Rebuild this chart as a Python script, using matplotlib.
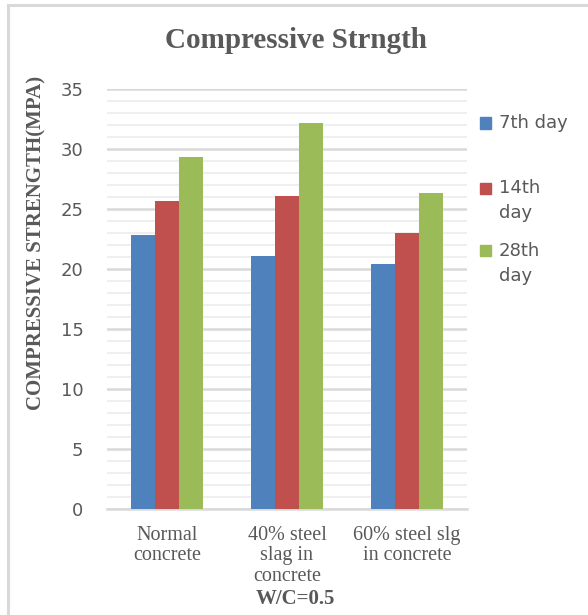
import matplotlib
matplotlib.use("Agg")
import matplotlib.pyplot as plt
import numpy as np
from matplotlib.patches import Rectangle
from matplotlib.lines import Line2D

categories = ["Normal\nconcrete", "40% steel\nslag in\nconcrete", "60% steel slg\nin concrete"]
series_names = ["7th day", "14th\nday", "28th\nday"]
day7 = [22.8, 21.1, 20.4]
day14 = [25.7, 26.1, 23.0]
day28 = [29.3, 32.2, 26.3]
colors = ["#4F81BD", "#C0504D", "#9BBB59"]
yticks = [0, 5, 10, 15, 20, 25, 30, 35]

W, H = 588, 615
fig = plt.figure(figsize=(W / 100, H / 100), dpi=100)
ax = fig.add_axes([107 / W, 1 - 509 / H, 360 / W, 420 / H])

x = np.arange(len(categories))
bw = 0.2
for i, (vals, c) in enumerate(zip([day7, day14, day28], colors)):
    ax.bar(x + (i - 1) * bw, vals, width=bw, color=c, zorder=3)

ax.set_xlim(-0.5, len(categories) - 0.5)
ax.set_ylim(0, 35)
ax.set_yticks(yticks)
ax.set_yticks(np.arange(0, 36, 1), minor=True)
ax.yaxis.grid(True, which="major", color="#d9d9d9", lw=1.8, zorder=0)
ax.yaxis.grid(True, which="minor", color="#efefef", lw=1.5, zorder=0)
ax.set_axisbelow(True)
for s in ["left", "right", "top"]:
    ax.spines[s].set_visible(False)
ax.spines["bottom"].set_color("#d9d9d9")
ax.spines["bottom"].set_linewidth(1.8)
ax.tick_params(axis="y", which="both", length=0, pad=17, labelsize=13, labelcolor="#595959")
ax.tick_params(axis="x", which="both", length=0, pad=12)
ax.set_xticks(x)
ax.set_xticklabels(categories, family="Liberation Serif", fontsize=14.5, color="#595959", linespacing=1.13)
for t in ax.get_yticklabels():
    t.set_family("DejaVu Sans")

fig.text(296 / W, 1 - 41 / H, "Compressive Strngth", family="Liberation Serif", fontweight="bold",
         fontsize=21, color="#595959", ha="center", va="center")
fig.text(36 / W, 1 - 243 / H, "COMPRESSIVE STRENGTH(MPA)", family="Liberation Serif", fontweight="bold",
         fontsize=15, color="#595959", ha="center", va="center", rotation=90)
fig.text(295 / W, 1 - 599 / H, "W/C=0.5", family="Liberation Serif", fontweight="bold",
         fontsize=15, color="#595959", ha="center", va="center")

# legend
leg_y = [123, 188, 251]
for name, c, yy in zip(series_names, colors, leg_y):
    fig.patches.append(Rectangle((480 / W, 1 - (yy + 5.5) / H), 11 / W, 11 / H, color=c,
                                 transform=fig.transFigure, figure=fig))
    fig.text(499 / W, 1 - (yy - 9) / H, name, family="DejaVu Sans", fontsize=13, color="#595959",
             ha="left", va="top", linespacing=1.5)

# outer border (left and top)
fig.add_artist(Line2D([8 / W, 8 / W], [0, 1 - 5 / H], color="#d9d9d9", lw=2.2, transform=fig.transFigure))
fig.add_artist(Line2D([8 / W, 1], [1 - 5 / H, 1 - 5 / H], color="#d9d9d9", lw=2.2, transform=fig.transFigure))

fig.savefig("out.png", dpi=100)
